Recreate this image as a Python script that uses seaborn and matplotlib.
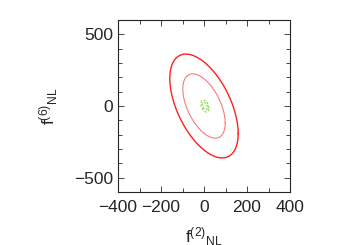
import numpy as np
import pandas as pd
import matplotlib
matplotlib.use('Agg')
import matplotlib.pyplot as plt
import seaborn as sns

# Fisher forecast: 1-sigma widths and correlation of (f2_NL, f6_NL)
forecast_names = ['red', 'green']
center_x = [0, 4]
center_y = [0, 0]
sigma_x = [65, 7.5]
sigma_y = [148, 17]
rho = [-0.53, -0.35]
# delta chi^2 for 68% and 95% contours (2 params)
levels = ['68', '95']
dchi2 = [2.30, 5.99]

t = np.linspace(0, 2 * np.pi, 361)
rows = []
for i, name in enumerate(forecast_names):
    cov = np.array([[sigma_x[i]**2, rho[i] * sigma_x[i] * sigma_y[i]],
                    [rho[i] * sigma_x[i] * sigma_y[i], sigma_y[i]**2]])
    L = np.linalg.cholesky(cov)
    for lev, d in zip(levels, dchi2):
        pts = L @ np.vstack([np.cos(t), np.sin(t)]) * np.sqrt(d)
        for j in range(len(t)):
            rows.append({'x': center_x[i] + pts[0, j], 'y': center_y[i] + pts[1, j],
                         'order': j, 'set': name + lev})
df = pd.DataFrame(rows)

sns.set_style('ticks')
plt.rcParams['font.family'] = ['Liberation Sans', 'DejaVu Sans']
plt.rcParams['mathtext.fontset'] = 'custom'
plt.rcParams['mathtext.rm'] = 'Liberation Sans'
plt.rcParams['mathtext.it'] = 'Liberation Sans'

fig = plt.figure(figsize=(3.5, 2.45), dpi=100)
ax = fig.add_axes([118 / 350, 53 / 245, 172 / 350, 172 / 245])

styles = {
    'red95': dict(color='#ff2020', lw=1.0, ls='-'),
    'red68': dict(color='#f47c7c', lw=0.8, ls='-'),
    'green95': dict(color='#8ee05a', lw=0.9, ls=(0, (2, 1.2))),
    'green68': dict(color='#8ee05a', lw=0.9, ls=(0, (2, 1.2))),
}
for key, st in styles.items():
    sub = df[df['set'] == key]
    sns.lineplot(data=sub, x='x', y='y', sort=False, estimator=None, ax=ax,
                 color=st['color'], linewidth=st['lw'], linestyle=st['ls'])

ax.set_xlim(-400, 400)
ax.set_ylim(-600, 600)
ax.set_xticks([-400, -200, 0, 200, 400])
ax.set_xticks(np.arange(-400, 401, 100), minor=True)
ax.set_yticks([-500, 0, 500])
ax.set_yticks(np.arange(-600, 601, 100), minor=True)
ax.tick_params(which='both', direction='in', top=True, right=True, labelsize=12.5)
ax.tick_params(which='major', length=4, width=0.6)
ax.tick_params(which='minor', length=3, width=0.6)
for s in ax.spines.values():
    s.set_linewidth(0.8)
ax.tick_params(axis='x', pad=6)
ax.set_xlabel(r'f$^{(2)}$$_{\rm NL}$', fontsize=12.5, labelpad=7)
ax.set_ylabel(r'f$^{(6)}$$_{\rm NL}$', fontsize=12.5, labelpad=10)

fig.savefig('out.png', dpi=100)
